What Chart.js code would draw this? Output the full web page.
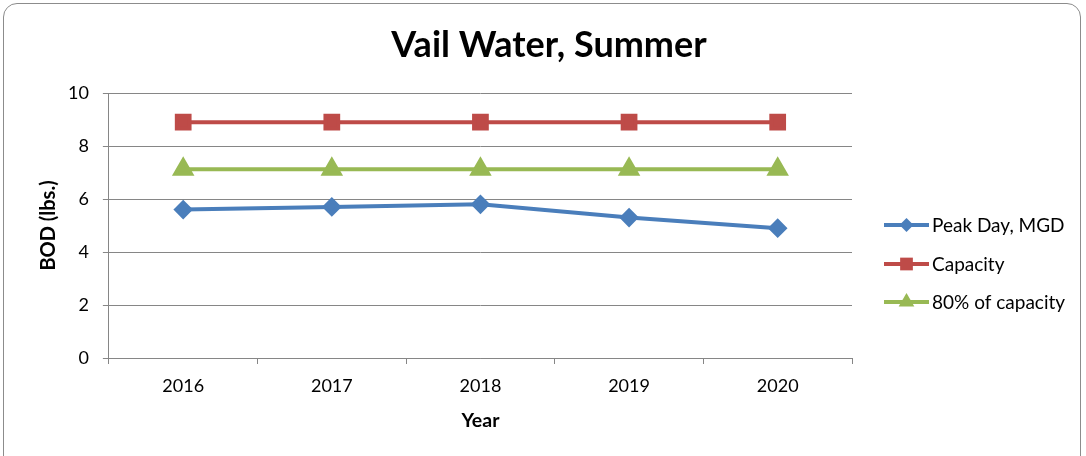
<!DOCTYPE html>
<html>
<head>
<meta charset="utf-8">
<script src="https://cdn.jsdelivr.net/npm/chart.js@4"></script>
<style>
  html, body { margin: 0; padding: 0; background: #fff; }
  #marco {
    position: absolute; left: 3px; top: 3px; width: 1078px; height: 470px;
    border: 1px solid #8c8c8c; border-radius: 14px; box-sizing: border-box;
  }
  #wrap { position: absolute; left: 0; top: 0; width: 1086px; height: 456px; }
</style>
</head>
<body>
<div id="marco"></div>
<div id="wrap"><canvas id="myChart" width="1086" height="456"></canvas></div>
<script>
const anios = ['2016', '2017', '2018', '2019', '2020'];
const picoDia = [5.6, 5.7, 5.8, 5.3, 4.9];
const capacidad = [8.9, 8.9, 8.9, 8.9, 8.9];
const ochentaPorciento = [7.12, 7.12, 7.12, 7.12, 7.12];
const nombres = ['Peak Day, MGD', 'Capacity', '80% of capacity'];
const titulo = 'Vail Water, Summer';

const fuente = 'Lato, "Open Sans", sans-serif';

function dibujaMarca(ctx, estilo, x, y, r, color) {
  ctx.fillStyle = color;
  ctx.beginPath();
  if (estilo === 'rectRot') {
    ctx.moveTo(x, y - r); ctx.lineTo(x + r, y); ctx.lineTo(x, y + r); ctx.lineTo(x - r, y);
  } else if (estilo === 'rect') {
    const s = r * Math.SQRT1_2;
    ctx.rect(x - s, y - s, 2 * s, 2 * s);
  } else {
    ctx.moveTo(x, y - r); ctx.lineTo(x + r * 0.87, y + r * 0.5); ctx.lineTo(x - r * 0.87, y + r * 0.5);
  }
  ctx.closePath();
  ctx.fill();
}

// titulo centrado en todo el lienzo + leyenda a mano (linea + marcador como en Excel)
const extras = {
  id: 'extras',
  afterDraw(chart) {
    const ctx = chart.ctx;
    ctx.save();
    ctx.fillStyle = '#000';
    ctx.font = 'bold 36px ' + fuente;
    ctx.textAlign = 'center';
    ctx.textBaseline = 'middle';
    ctx.fillText(titulo, 549, 45);

    const ys = [225, 264, 302];
    ctx.textAlign = 'left';
    chart.data.datasets.forEach((ds, i) => {
      const y = ys[i];
      ctx.strokeStyle = ds.borderColor;
      ctx.lineWidth = 4;
      ctx.beginPath();
      ctx.moveTo(884, y); ctx.lineTo(929, y);
      ctx.stroke();
      dibujaMarca(ctx, ds.pointStyle, 906.5, y, ds.pointRadius, ds.backgroundColor);
      ctx.fillStyle = '#000';
      ctx.font = '19px ' + fuente;
      ctx.textBaseline = 'middle';
      ctx.fillText(ds.label, 932, y + 1);
    });
    ctx.restore();
  }
};

const config = {
  type: 'line',
  data: {
    labels: anios,
    datasets: [
      { label: nombres[0], data: picoDia, borderColor: '#4a7ebb', backgroundColor: '#4a7ebb',
        borderWidth: 4, pointStyle: 'rectRot', pointRadius: 7, pointHoverRadius: 7 },
      { label: nombres[1], data: capacidad, borderColor: '#be4b48', backgroundColor: '#be4b48',
        borderWidth: 4, pointStyle: 'rect', pointRadius: 9, pointHoverRadius: 9 },
      { label: nombres[2], data: ochentaPorciento, borderColor: '#98b954', backgroundColor: '#98b954',
        borderWidth: 4, pointStyle: 'triangle', pointRadius: 9, pointHoverRadius: 9 }
    ]
  },
  options: {
    responsive: false,
    animation: false,
    layout: { padding: { left: 10, right: 234, top: 93, bottom: 24 } },
    plugins: {
      legend: { display: false },
      tooltip: { enabled: false },
      title: { display: false }
    },
    scales: {
      x: {
        offset: true,
        grid: { offset: true, drawOnChartArea: false, drawTicks: true, tickLength: 6, color: '#868686' },
        border: { color: '#868686', width: 1 },
        ticks: { color: '#000', font: { family: fuente, size: 18 }, padding: 11 },
        title: { display: true, text: 'Year', color: '#000', font: { family: fuente, size: 19.5, weight: 'bold' }, padding: { top: 1, bottom: 0 } }
      },
      y: {
        min: 0, max: 10,
        ticks: { stepSize: 2, color: '#000', font: { family: fuente, size: 18 }, padding: 14 },
        grid: { color: '#868686', tickLength: 6 },
        border: { color: '#868686', width: 1 },
        title: { display: true, text: 'BOD (lbs.)', color: '#000', font: { family: fuente, size: 20, weight: 'bold' }, padding: { top: 27, bottom: -7 } }
      }
    }
  },
  plugins: [extras]
};

new Chart(document.getElementById('myChart'), config);
</script>
</body>
</html>
